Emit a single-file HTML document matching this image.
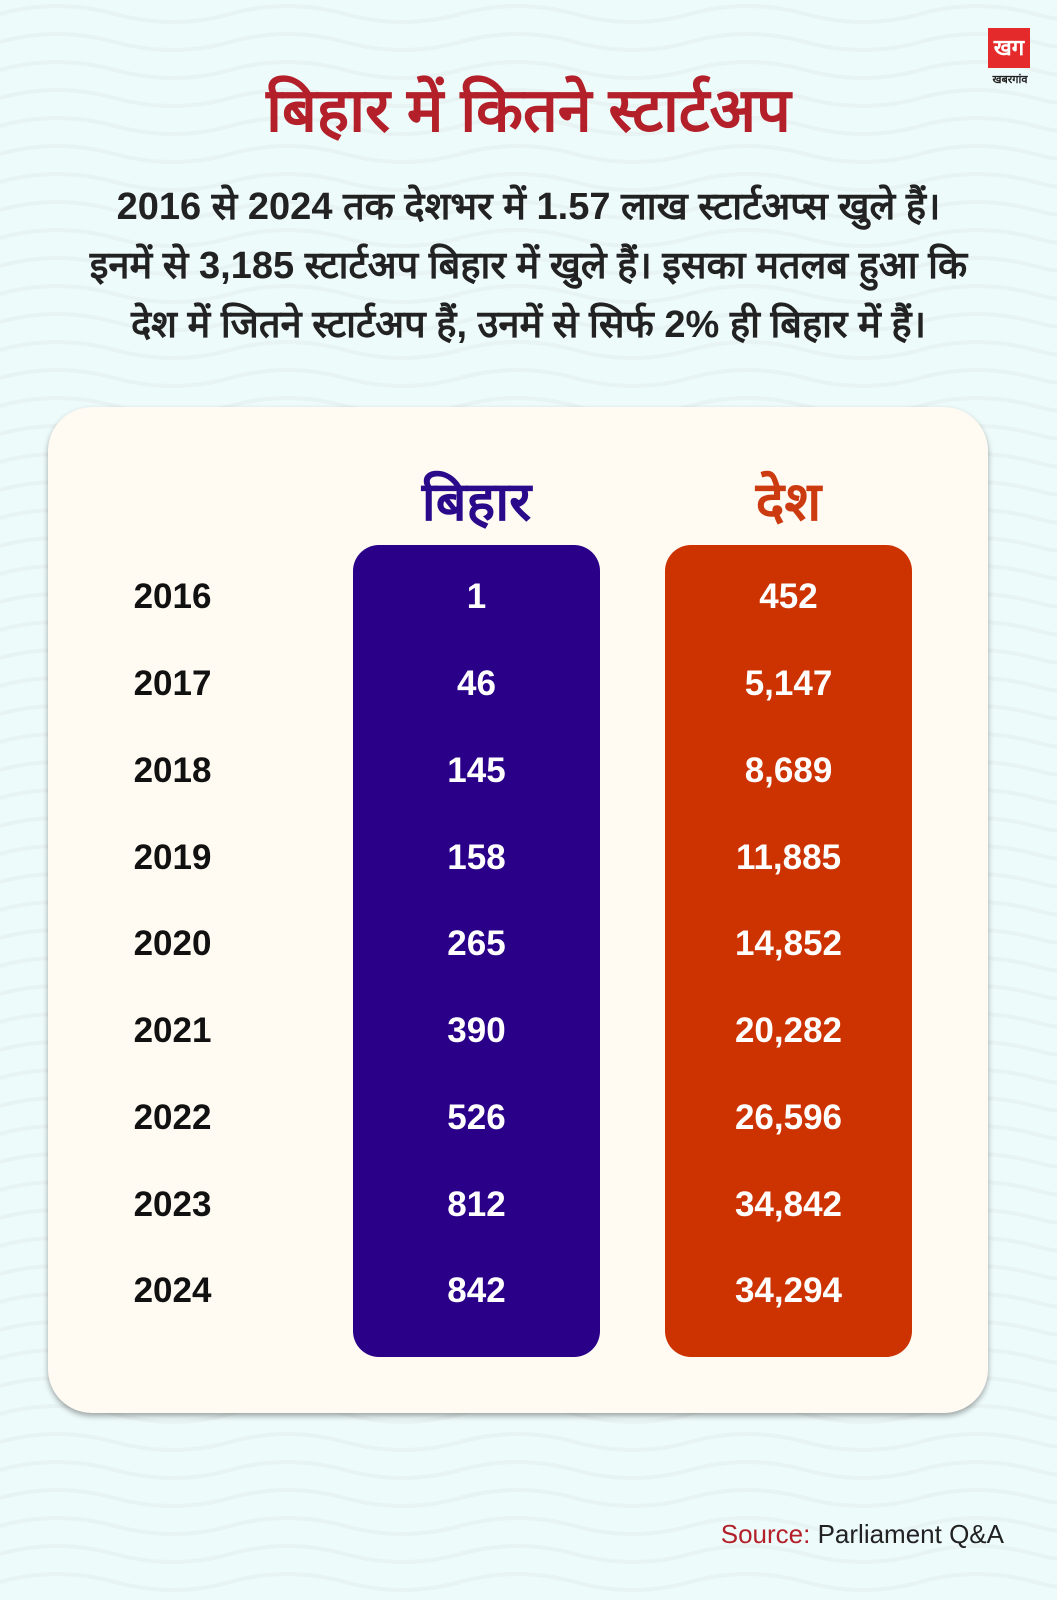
<!DOCTYPE html>
<html><head><meta charset="utf-8"><style>
body{margin:0;width:1057px;height:1600px;background:#eefbfb;position:relative;font-family:"Liberation Sans","DejaVu Sans",sans-serif;overflow:hidden}
.abs{position:absolute}
.title{left:0;width:1057px;top:66px;text-align:center;font-size:61px;font-weight:bold;color:#b3202a}
.sub{left:0;width:1057px;top:178px;text-align:center;font-size:38px;line-height:59px;color:#222;font-weight:bold}
.card{left:48px;top:407px;width:940px;height:1006px;background:#fffaf2;border-radius:44px;box-shadow:0 3px 6px rgba(0,0,0,.35)}
.col{top:545px;width:247px;height:812px;border-radius:26px}
.hdr{top:462px;width:247px;text-align:center;font-size:54px;font-weight:bold}
.row{width:247px;text-align:center;font-size:35px;font-weight:bold;color:#fff}
.yr{left:90px;width:165px;text-align:center;font-size:35px;font-weight:bold;color:#111}
</style></head><body>
<svg class="abs" style="left:0;top:0" width="1057" height="1600">
<defs><pattern id="w" width="230" height="28" patternUnits="userSpaceOnUse"><path d="M0 14 Q57 -2 115 14 T230 14" fill="none" stroke="#e8f3f3" stroke-width="4"/></pattern></defs>
<rect width="1057" height="1600" fill="url(#w)"/></svg>
<div class="abs" style="left:988px;top:28px;width:42px;height:40px;background:#e42a2a;color:#fff;font-size:22px;text-align:center;line-height:40px;font-weight:bold">खग</div>
<div class="abs" style="left:982px;top:72px;width:56px;font-size:11px;text-align:center;color:#222;font-weight:bold">खबरगांव</div>
<div class="abs title">बिहार में कितने स्टार्टअप</div>
<div class="abs sub">2016 से 2024 तक देशभर में 1.57 लाख स्टार्टअप्स खुले हैं।<br>इनमें से 3,185 स्टार्टअप बिहार में खुले हैं। इसका मतलब हुआ कि<br>देश में जितने स्टार्टअप हैं, उनमें से सिर्फ 2% ही बिहार में हैं।</div>
<div class="abs card"></div>
<div class="abs hdr" style="left:353px;color:#2a0a8a">बिहार</div>
<div class="abs hdr" style="left:665px;color:#cc3a10">देश</div>
<div class="abs col" style="left:353px;background:#2a0089"></div>
<div class="abs col" style="left:665px;background:#cc3300"></div>
<div class="abs yr" style="top:577px">2016</div><div class="abs row" style="left:353px;top:577px">1</div><div class="abs row" style="left:665px;top:577px">452</div>
<div class="abs yr" style="top:664px">2017</div><div class="abs row" style="left:353px;top:664px">46</div><div class="abs row" style="left:665px;top:664px">5,147</div>
<div class="abs yr" style="top:751px">2018</div><div class="abs row" style="left:353px;top:751px">145</div><div class="abs row" style="left:665px;top:751px">8,689</div>
<div class="abs yr" style="top:838px">2019</div><div class="abs row" style="left:353px;top:838px">158</div><div class="abs row" style="left:665px;top:838px">11,885</div>
<div class="abs yr" style="top:924px">2020</div><div class="abs row" style="left:353px;top:924px">265</div><div class="abs row" style="left:665px;top:924px">14,852</div>
<div class="abs yr" style="top:1011px">2021</div><div class="abs row" style="left:353px;top:1011px">390</div><div class="abs row" style="left:665px;top:1011px">20,282</div>
<div class="abs yr" style="top:1098px">2022</div><div class="abs row" style="left:353px;top:1098px">526</div><div class="abs row" style="left:665px;top:1098px">26,596</div>
<div class="abs yr" style="top:1185px">2023</div><div class="abs row" style="left:353px;top:1185px">812</div><div class="abs row" style="left:665px;top:1185px">34,842</div>
<div class="abs yr" style="top:1271px">2024</div><div class="abs row" style="left:353px;top:1271px">842</div><div class="abs row" style="left:665px;top:1271px">34,294</div>
<div class="abs" style="left:700px;top:1519px;width:304px;text-align:right;font-size:26px;color:#222;font-family:'Liberation Sans Narrow','Liberation Sans',sans-serif"><span style="color:#b3202a">Source:</span> Parliament Q&amp;A</div>
</body></html>
